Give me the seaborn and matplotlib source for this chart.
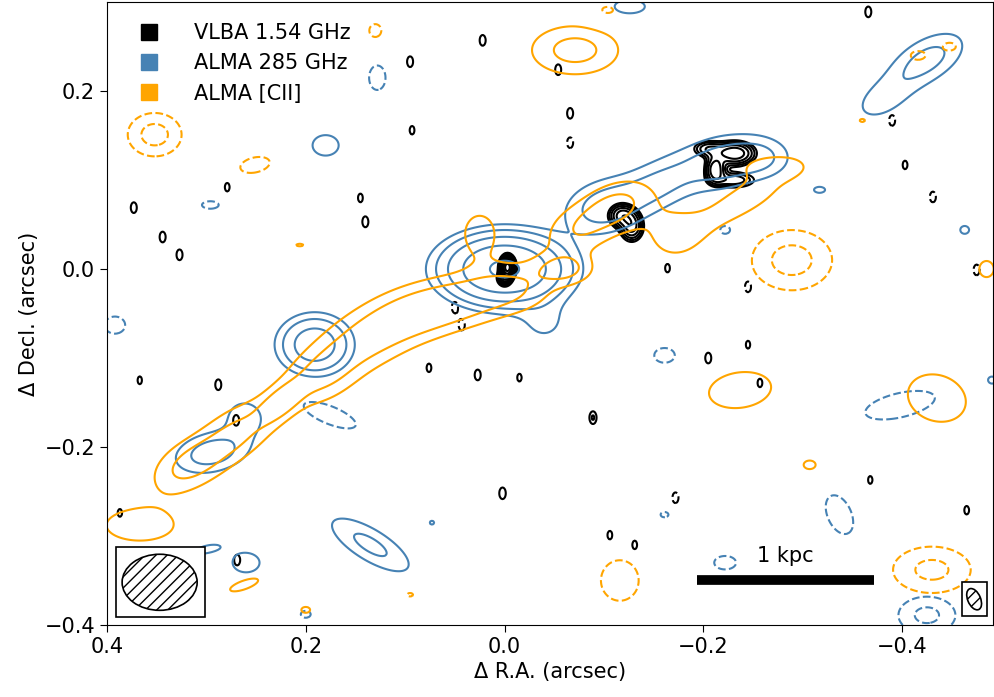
import numpy as np
import matplotlib
matplotlib.use("Agg")
import matplotlib.pyplot as plt
from matplotlib.lines import Line2D
from matplotlib.patches import Ellipse, Rectangle
import seaborn as sns

# ALMA 285 GHz continuum: gaussian components (arcsec, deg, sigma units)
alma_x = [0.0, -0.04, 0.191, -0.10, -0.155, -0.22, -0.26, 0.294, 0.261, 0.135, 0.26, 0.30,
          -0.425, -0.38, 0.180, -0.126, -0.317, -0.463, -0.49, 0.073, -0.32,
          0.176, 0.128, 0.296, 0.392, -0.161, -0.222, -0.222, -0.337, -0.398, -0.425, 0.2, -0.161]
alma_y = [0.0, -0.06, -0.085, 0.07, 0.095, 0.12, 0.125, -0.206, -0.166, -0.31, -0.33, -0.315,
          0.235, 0.19, 0.139, 0.295, 0.089, 0.044, -0.125, -0.285, -0.163,
          -0.164, 0.215, 0.072, -0.063, -0.097, 0.044, -0.33, -0.276, -0.153, -0.389, -0.388, -0.276]
alma_sx = [0.033, 0.02, 0.021, 0.028, 0.03, 0.03, 0.02, 0.026, 0.015, 0.035, 0.015, 0.02,
           0.03, 0.025, 0.016, 0.02, 0.01, 0.008, 0.01, 0.005, 0.004,
           0.038, 0.012, 0.014, 0.015, 0.015, 0.009, 0.016, 0.016, 0.04, 0.022, 0.009, 0.008]
alma_sy = [0.021, 0.02, 0.019, 0.02, 0.018, 0.02, 0.015, 0.015, 0.015, 0.013, 0.012, 0.007,
           0.016, 0.015, 0.014, 0.01, 0.006, 0.008, 0.01, 0.005, 0.003,
           0.013, 0.02, 0.007, 0.014, 0.012, 0.008, 0.011, 0.03, 0.015, 0.016, 0.007, 0.006]
alma_pa = [0, 30, 0, -20, -30, -15, 0, -15, 0, 35, 0, -15,
           -35, -35, 0, 0, 0, 0, 0, 0, 0,
           25, 0, 0, 0, 0, 0, 0, -20, -15, 0, 0, 0]
alma_amp = [53, 3.5, 19, 8, 6.5, 8, 5, 8.5, 5, 7, 4.5, 3.5,
            7.5, 4.2, 4.2, 4, 3.5, 3.5, 3.5, 3.3, 3.2,
            -4, -3.8, -3.6, -3.8, -3.8, -3.5, -3.8, -4, -4.5, -7, -3.5, -3.4]

# ALMA [CII]
cii_x = [0.32, 0.27, 0.225, 0.185, 0.14, 0.09, 0.04, -0.01, -0.06, 0.025, -0.07, -0.11, -0.17,
         -0.245, -0.27, -0.071, -0.237, -0.435, -0.307, 0.367, 0.262, 0.2, 0.206, -0.36, -0.485,
         0.352, 0.251, -0.289, -0.116, -0.43, -0.103, 0.095, -0.416, -0.448, 0.13]
cii_y = [-0.222, -0.185, -0.15, -0.12, -0.08, -0.05, -0.035, -0.02, 0.0, 0.04, 0.04, 0.07, 0.04,
         0.08, 0.115, 0.246, -0.136, -0.145, -0.22, -0.288, -0.355, -0.383, 0.027, 0.167, 0.0,
         0.151, 0.117, 0.01, -0.35, -0.338, 0.29, -0.366, 0.24, 0.25, 0.268]
cii_sx = [0.028, 0.035, 0.02, 0.03, 0.035, 0.035, 0.035, 0.03, 0.02, 0.016, 0.025, 0.028, 0.03,
          0.04, 0.025, 0.032, 0.035, 0.03, 0.01, 0.037, 0.022, 0.008, 0.007, 0.006, 0.012,
          0.02, 0.02, 0.03, 0.025, 0.03, 0.015, 0.006, 0.012, 0.01, 0.01]
cii_sy = [0.018, 0.019, 0.01, 0.02, 0.022, 0.021, 0.02, 0.02, 0.012, 0.022, 0.02, 0.018, 0.03,
          0.015, 0.01, 0.02, 0.022, 0.025, 0.008, 0.019, 0.007, 0.006, 0.003, 0.004, 0.015,
          0.018, 0.011, 0.025, 0.03, 0.02, 0.01, 0.004, 0.008, 0.007, 0.012]
cii_pa = [-35, -40, -45, -35, -25, -15, -10, 0, 0, 0, -30, -30, 0,
          -35, 0, 0, -10, 30, 0, 0, -22, 0, 0, 0, 0,
          0, -15, 0, 0, 0, 0, 0, 0, 0, 0]
cii_amp = [6.3, 6.8, 7, 6.5, 6.5, 6.8, 6.3, 5, 6.5, 4.5, 4.5, 7, 3.6,
           4.5, 4, 7.5, 4.5, 5, 3.6, 4.5, 3.8, 3.5, 3.4, 3.3, 3.6,
           -7.5, -4, -7.5, -4, -7, -3.6, -3.4, -3.6, -3.6, -3.6]

# VLBA 1.54 GHz: core + two knots
vlba_x = [-0.003, 0.0, -0.118, -0.128, -0.232, -0.212, -0.23, -0.205]
vlba_y = [0.002, -0.01, 0.06, 0.048, 0.13, 0.112, 0.1, 0.135]
vlba_sx = [0.0035, 0.004, 0.008, 0.007, 0.012, 0.006, 0.015, 0.01]
vlba_sy = [0.006, 0.005, 0.008, 0.01, 0.008, 0.009, 0.006, 0.006]
vlba_amp = [120, 20, 14, 14, 16, 16, 8, 8]
# VLBA noise peaks
noise_x = [0.022, -0.054, -0.066, 0.093, -0.066, 0.145, 0.14, 0.373, 0.344, 0.327, 0.279,
           -0.164, -0.245, -0.205, -0.245, -0.089, 0.002, -0.131, -0.106, 0.269, 0.27, 0.288,
           0.367, 0.076, 0.027, -0.015, -0.257, 0.043, 0.05, -0.172, -0.403, -0.431, -0.475,
           -0.465, -0.368, -0.366, -0.39, 0.387, 0.095]
noise_y = [0.257, 0.224, 0.175, 0.156, 0.142, 0.08, 0.053, 0.069, 0.036, 0.016, 0.092,
           0.001, -0.02, -0.1, -0.085, -0.167, -0.252, -0.31, -0.299, -0.327, -0.17, -0.13,
           -0.125, -0.111, -0.119, -0.122, -0.128, -0.063, -0.043, -0.257, 0.117, 0.081, -0.001,
           -0.271, -0.237, 0.289, 0.167, -0.274, 0.233]
noise_amp = [4, 4, 4, 3.6, -4, 3.6, 4, 4, 4, 4, 3.6,
             3.6, -4, 4, 3.5, 4.5, 4.2, 3.6, 3.6, 4, 4, 4,
             3.5, 3.6, 4, 3.5, 3.6, -4, -4, -4, 3.6, -4, -4,
             3.6, 3.5, 4, -4, 3.5, 4]

levels_pos = [3, 6, 12, 24, 48]
levels_neg = [-6, -3]
vlba_levels = [3, 4.24, 6, 8.5, 12, 17, 24, 34, 48, 68, 96]


def gauss_map(xx, yy, xs, ys, sxs, sys_, pas, amps):
    z = np.zeros_like(xx)
    for x0, y0, sx, sy, pa, a in zip(xs, ys, sxs, sys_, pas, amps):
        th = np.radians(pa)
        dx = xx - x0
        dy = yy - y0
        u = dx * np.cos(th) + dy * np.sin(th)
        v = -dx * np.sin(th) + dy * np.cos(th)
        z += a * np.exp(-0.5 * ((u / sx) ** 2 + (v / sy) ** 2))
    return z


gx = np.linspace(-0.51, 0.42, 720)
gy = np.linspace(-0.42, 0.32, 560)
XX, YY = np.meshgrid(gx, gy)

z_alma = gauss_map(XX, YY, alma_x, alma_y, alma_sx, alma_sy, alma_pa, alma_amp)
z_cii = gauss_map(XX, YY, cii_x, cii_y, cii_sx, cii_sy, cii_pa, cii_amp)
z_vlba = gauss_map(XX, YY, vlba_x, vlba_y, vlba_sx, vlba_sy, [0] * len(vlba_x), vlba_amp)
z_vlba += gauss_map(XX, YY, noise_x, noise_y, [0.004] * len(noise_x), [0.008] * len(noise_x),
                    [0] * len(noise_x), noise_amp)

sns.set_style("ticks", {"axes.edgecolor": "black", "xtick.color": "black", "ytick.color": "black",
                        "text.color": "black", "axes.labelcolor": "black"})
plt.rcParams["font.family"] = ["DejaVu Sans"]
plt.rcParams["font.size"] = 15

fig = plt.figure(figsize=(9.95, 6.97), dpi=100)
ax = fig.add_axes([0.1075, 0.1033, 0.8905, 0.8937])

blue = "#4682b4"
orange = "#ffa500"

ax.contour(XX, YY, z_vlba, levels=vlba_levels, colors="black", linewidths=1.5)
ax.contour(XX, YY, z_vlba, levels=[-3], colors="black", linewidths=1.5, linestyles="--")
ax.contour(XX, YY, z_alma, levels=levels_pos, colors=blue, linewidths=1.5)
ax.contour(XX, YY, z_alma, levels=levels_neg, colors=blue, linewidths=1.5, linestyles="--")
ax.contour(XX, YY, z_cii, levels=levels_pos, colors=orange, linewidths=1.5)
ax.contour(XX, YY, z_cii, levels=levels_neg, colors=orange, linewidths=1.5, linestyles="--")

# beams
ax.add_patch(Rectangle((0.391, -0.391), -0.090, 0.079, facecolor="white", edgecolor="black", lw=1.2, zorder=5))
ax.add_patch(Ellipse((0.347, -0.352), 0.0755, 0.063, facecolor="none", edgecolor="black",
                     hatch="///", lw=1.2, zorder=6))
ax.add_patch(Rectangle((-0.460, -0.390), -0.025, 0.038, facecolor="white", edgecolor="black", lw=1.2, zorder=5))
ax.add_patch(Ellipse((-0.4725, -0.371), 0.013, 0.025, angle=-20, facecolor="none", edgecolor="black",
                     hatch="///", lw=1.2, zorder=6))

# scale bar
ax.plot([-0.194, -0.372], [-0.349, -0.349], color="black", lw=7, solid_capstyle="butt", zorder=6)
ax.text(-0.283, -0.323, "1 kpc", ha="center", va="center", fontsize=15, zorder=6)

ax.set_xlim(0.4, -0.4915)
ax.set_ylim(-0.4, 0.3)
ax.set_xticks([0.4, 0.2, 0.0, -0.2, -0.4])
ax.set_yticks([-0.4, -0.2, 0.0, 0.2])
ax.set_xlabel("Δ R.A. (arcsec)", fontsize=15)
ax.set_ylabel("Δ Decl. (arcsec)", fontsize=15)
ax.tick_params(labelsize=15, length=5, direction="out")

handles = [Line2D([], [], marker="s", ls="none", color=c, markersize=12)
           for c in ["black", blue, orange]]
ax.legend(handles, ["VLBA 1.54 GHz", "ALMA 285 GHz", "ALMA [CII]"], loc="upper left",
          frameon=False, fontsize=15, handletextpad=1.2, borderaxespad=0.6)

fig.savefig("out.png", dpi=100)
